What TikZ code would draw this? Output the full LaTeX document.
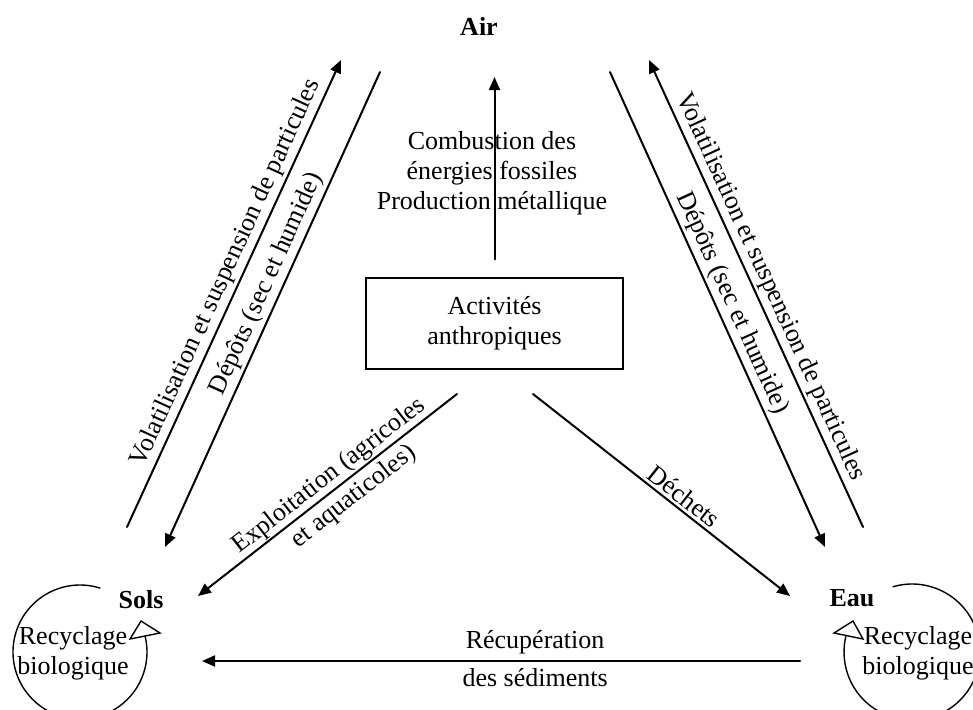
\documentclass[tikz,border=0pt]{standalone}
\usepackage{fontspec}
\setmainfont{Liberation Serif}
\usetikzlibrary{arrows.meta}

\begin{document}
\begin{tikzpicture}
	[x=0.5pt,y=-0.5pt,line cap=round,
	%Styles
	flow/.style={line width=1pt,-{Triangle[length=6.5pt,width=5.5pt]}},
	label text/.style={font=\fontsize{13}{15}\selectfont},
	flow text/.style={label text,sloped,inner sep=1.5pt},
	compartment/.style={font=\fontsize{13}{15}\selectfont\bfseries},
	source box/.style={draw,line width=0.6pt,label text,align=center,minimum width=128.5pt,minimum height=45.5pt},
	loop/.style={line width=0.7pt},
	loop head/.style={draw,fill=white,line width=0.7pt,line join=miter}
	]
	
	\useasboundingbox (0,0) rectangle (973,709);
	
	%The compartments
	\node[compartment] (air) at (479,26) {Air};
	\node[compartment] (sols) at (141,600) {Sols};
	\node[compartment] (eau) at (852,598) {Eau};
	\node[source box] (act) at (494.5,323.5) {Activités\\anthropiques};
	
	%End points of the flows
	\coordinate (airC) at (494.5,77);
	\coordinate (airA) at (341,60);
	\coordinate (airB) at (380,72);
	\coordinate (airD) at (649,60);
	\coordinate (airE) at (610,72);
	\coordinate (solsA) at (127,527);
	\coordinate (solsB) at (165,547);
	\coordinate (eauA) at (863,527);
	\coordinate (eauB) at (825,547);
	\coordinate (actS) at (457,394);
	\coordinate (actE) at (533,394);
	\coordinate (solsX) at (198,596);
	\coordinate (eauX) at (790,596);
	\coordinate (eauR) at (800,661);
	\coordinate (solsR) at (202,661);
	
	%The flows
	\draw[flow,shorten <=9pt] (act.north) -- (airC);
	\node[label text,align=center] (comb) at (492,173) {Combustion des\\énergies fossiles\\Production métallique};
	
	\draw[flow] (solsA) -- node[flow text,above,pos=0.53] {Volatilisation et suspension de particules} (airA);
	\draw[flow] (airB) -- node[flow text,above,pos=0.46] {Dépôts (sec et humide)} (solsB);
	\draw[flow] (eauA) -- node[flow text,above,pos=0.5] {Volatilisation et suspension de particules} (airD);
	\draw[flow] (airE) -- node[flow text,above,pos=0.5] {Dépôts (sec et humide)} (eauB);
	
	\draw[flow] (actS) -- node[flow text,above,pos=0.46,inner sep=0.5pt] {Exploitation (agricoles}
		node[flow text,below,pos=0.44,inner sep=2.5pt] {et aquaticoles)} (solsX);
	\draw[flow] (actE) -- node[flow text,above,pos=0.557] {Déchets} (eauX);
	
	\draw[flow] (eauR) -- node[flow text,above,pos=0.443,inner sep=3pt] {Récupération}
		node[flow text,below,pos=0.443,inner sep=3pt] {des sédiments} (solsR);
	
	%Recycling loops
	\draw[loop] (80,652) ++(-72.6:67) arc[start angle=-72.6,end angle=-373.8,radius=67];
	\draw[loop head] (130,639) -- (141,621) -- (160,633) -- cycle;
	\node[label text,align=center] (recyS) at (73,653) {Recyclage\\biologique};
	
	\draw[loop] (912,652) ++(253.8:68) arc[start angle=253.8,end angle=553.2,radius=68];
	\draw[loop head] (863,639) -- (853,621) -- (834,633) -- cycle;
	\node[label text,align=center] (recyE) at (918,653) {Recyclage\\biologique};
\end{tikzpicture}
\end{document}
